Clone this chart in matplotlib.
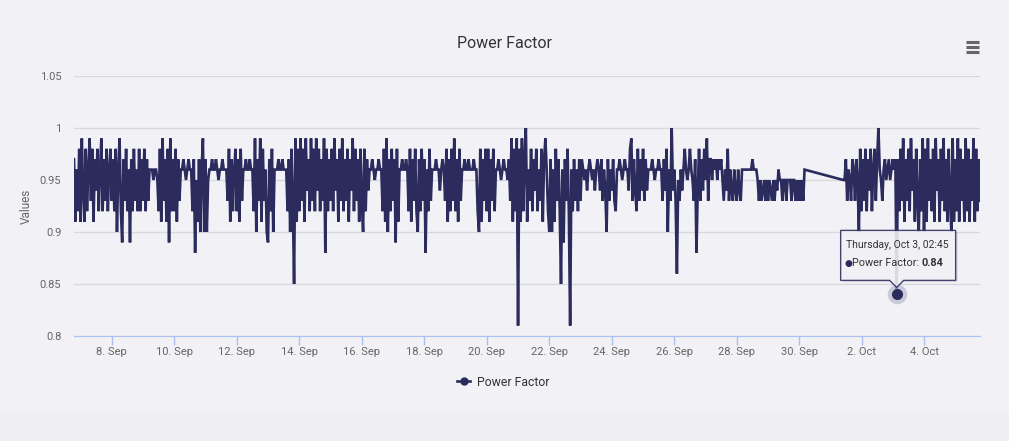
import matplotlib
matplotlib.use('Agg')
import matplotlib.pyplot as plt
import matplotlib.dates as mdates
from matplotlib import font_manager
from matplotlib.lines import Line2D
from matplotlib.patches import Rectangle, Polygon
from matplotlib.transforms import IdentityTransform
import numpy as np
import pandas as pd

# power factor readings, in hundredths, hourly
# first block: 6 Sep 19:00 -> 30 Sep 04:00
start_a = '2019-09-06 19:00'
pf_a = [
    97, 91, 96, 92, 98,  # 6 Sep 19-23
    91, 99, 94, 91, 98, 92, 96, 99, 93, 98, 91, 97, 94, 98, 92, 96, 99, 92, 97, 93, 98, 92, 96, 98,  # 7 Sep
    93, 97, 92, 98, 90, 96, 99, 92, 89, 97, 93, 98, 92, 96, 89, 97, 92, 98, 93, 96, 92, 98, 92, 97,  # 8
    93, 98, 92, 97, 93, 96, 96, 96, 95, 96, 96, 95, 92, 98, 91, 99, 93, 97, 91, 98, 89, 99, 92, 97,  # 9
    92, 98, 91, 97, 93, 96, 96, 97, 96, 95, 96, 97, 96, 96, 92, 97, 88, 95, 91, 97, 90, 96, 99, 90,  # 10
    97, 90, 95, 96, 96, 97, 96, 96, 97, 96, 95, 96, 96, 97, 96, 96, 96, 93, 98, 91, 97, 92, 96, 98,  # 11
    92, 97, 91, 98, 93, 96, 96, 97, 96, 96, 97, 96, 96, 92, 99, 90, 97, 93, 99, 91, 98, 93, 96, 90,  # 12
    89, 97, 92, 98, 90, 96, 96, 96, 97, 96, 96, 97, 96, 96, 96, 92, 97, 90, 98, 93, 85, 99, 91, 98,  # 13
    92, 99, 93, 98, 91, 99, 94, 97, 92, 99, 93, 98, 92, 99, 94, 98, 92, 97, 93, 99, 88, 98, 92, 97,  # 14
    93, 98, 92, 99, 94, 97, 91, 98, 93, 99, 92, 97, 93, 98, 91, 97, 94, 99, 92, 98, 93, 97, 91, 98,  # 15
    93, 90, 98, 92, 97, 94, 96, 96, 97, 96, 95, 96, 96, 97, 96, 96, 92, 98, 91, 99, 90, 97, 92, 98,  # 16
    93, 97, 89, 98, 91, 96, 96, 97, 96, 96, 97, 96, 92, 98, 91, 97, 93, 98, 92, 90, 97, 92, 98, 93,  # 17
    97, 88, 96, 92, 98, 93, 96, 96, 96, 97, 96, 96, 94, 96, 97, 96, 93, 98, 91, 97, 92, 98, 93, 99,  # 18
    92, 97, 91, 98, 93, 96, 96, 97, 96, 96, 97, 96, 96, 96, 97, 96, 96, 92, 90, 98, 91, 97, 93, 98,  # 19
    92, 98, 91, 97, 93, 98, 92, 96, 96, 97, 96, 95, 96, 97, 96, 96, 95, 97, 93, 99, 91, 98, 92, 99,  # 20
    81, 98, 91, 99, 92, 97, 100, 91, 96, 93, 98, 92, 97, 94, 98, 92, 96, 93, 98, 91, 97, 99, 96, 92,  # 21
    90, 97, 90, 96, 91, 98, 93, 97, 92, 85, 96, 89, 97, 93, 98, 92, 81, 96, 92, 97, 93, 96, 92, 97,  # 22
    93, 97, 96, 95, 96, 94, 96, 97, 96, 95, 96, 94, 96, 97, 96, 94, 97, 93, 96, 94, 90, 97, 93, 96,  # 23
    94, 97, 93, 92, 96, 96, 97, 96, 95, 96, 97, 96, 96, 94, 98, 99, 93, 97, 94, 92, 98, 93, 97, 94,  # 24
    98, 93, 97, 94, 96, 96, 96, 97, 96, 95, 96, 96, 97, 96, 96, 93, 97, 94, 98, 90, 96, 93, 100, 94,  # 25
    96, 93, 86, 95, 93, 96, 94, 96, 98, 96, 95, 96, 98, 96, 95, 93, 97, 88, 94, 98, 93, 97, 94, 98,  # 26
    95, 99, 93, 97, 97, 95, 97, 96, 97, 95, 97, 96, 97, 95, 93, 96, 94, 98, 93, 96, 94, 93, 96, 94,  # 27
    93, 96, 94, 93, 96, 96, 96, 96, 96, 96, 96, 96, 97, 96, 96, 96, 95, 93, 95, 93, 94, 95, 93, 95,  # 28
    93, 95, 94, 93, 95, 93, 95, 94, 96, 95, 95, 93, 95, 95, 93, 95, 95, 95, 93, 95, 95, 93, 95, 93,  # 29
    95, 93, 95, 93, 96,  # 30 Sep 00-04
]

# second block after the gap: 1 Oct 09:45 -> 5 Oct 18:45
start_b = '2019-10-01 09:45'
pf_b = [
    95, 95, 97, 93, 96, 95, 93, 97, 96, 93, 97, 95, 90, 98, 92,  # 1 Oct 09:45-23:45
    97, 93, 98, 92, 97, 94, 98, 92, 96, 98, 93, 97, 100, 96, 95, 93, 96, 97, 95, 96, 97, 95, 96, 97,  # 2
    96, 97, 84, 97, 92, 98, 93, 99, 91, 97, 93, 98, 92, 99, 94, 97, 91, 98, 93, 90, 97, 92, 99, 90,  # 3
    98, 91, 99, 93, 97, 92, 98, 91, 99, 94, 97, 91, 98, 93, 99, 92, 97, 91, 98, 93, 90, 99, 91, 97,  # 4
    92, 99, 91, 98, 93, 97, 91, 99, 92, 98, 91, 97, 93, 99, 91, 98, 92, 97, 93,  # 5 Oct 00:45-18:45
]

tip_time = '2019-10-03 02:45'
tip_value = 0.84
y_ticks = [0.8, 0.85, 0.9, 0.95, 1, 1.05]
y_tick_labels = ['0.8', '0.85', '0.9', '0.95', '1', '1.05']

navy = '#2b2b5e'
bg = '#f2f1f6'

names = {f.name for f in font_manager.fontManager.ttflist}
font = 'Liberation Sans Narrow' if 'Liberation Sans Narrow' in names else 'Roboto'
plt.rcParams['font.family'] = [font, 'DejaVu Sans']

times_a = pd.date_range(start_a, periods=len(pf_a), freq='h')
times_b = pd.date_range(start_b, periods=len(pf_b), freq='h')
times = times_a.append(times_b)
values = np.array(pf_a + pf_b) / 100.0

W, H = 1009, 441
fig = plt.figure(figsize=(W / 100, H / 100), dpi=100, facecolor=bg)
fig.add_artist(Rectangle((0, 0), W, 30, transform=IdentityTransform(),
                         facecolor='#efeef3', edgecolor='none', zorder=0))

ax = fig.add_axes([74 / W, 1 - 336 / H, 906 / W, 260 / H])
ax.set_facecolor(bg)
ax.plot(times, values, color=navy, lw=1.9, solid_joinstyle='miter', zorder=3)

ax.set_xlim(times[0], times[-1])
ax.set_ylim(0.8, 1.05)
ax.set_yticks(y_ticks, y_tick_labels)
ax.grid(axis='y', color='#d9d8de', lw=1)
ax.set_axisbelow(True)

xt = pd.date_range('2019-09-08', '2019-10-04', freq='2D')
ax.set_xticks(xt, ['%d. %s' % (d.day, d.strftime('%b')) for d in xt])

for s in ['top', 'right', 'left']:
    ax.spines[s].set_visible(False)
ax.spines['bottom'].set_color('#a9c2f2')
ax.tick_params(axis='x', colors='#a9c2f2', length=6.5, width=1, labelcolor='#666666',
               labelsize=8, pad=1.5)
ax.tick_params(axis='y', length=0, labelcolor='#666666', labelsize=8, pad=9)
ax.set_ylabel('Values', color='#666666', fontsize=8.5, labelpad=5)

fig.text(0.5, 1 - 44 / H, 'Power Factor', ha='center', va='center', fontsize=11.5, color='#333333')

# menu button
for yy in [41.5, 46.5, 51.5]:
    fig.add_artist(Line2D([966, 979], [H - yy, H - yy], transform=IdentityTransform(),
                          color='#666666', lw=2.2, solid_capstyle='butt'))

# legend
handle = Line2D([], [], color=navy, lw=1.9, marker='o', markersize=5)
fig.legend([handle], ['Power Factor'], loc='center', bbox_to_anchor=(503 / W, 1 - 382 / H),
           frameon=False, handlelength=1.1, handletextpad=0.5, fontsize=8.8,
           labelcolor='#333333')

# hovered point with tooltip
tip_t = pd.Timestamp(tip_time)
px, py = ax.transData.transform((mdates.date2num(tip_t), tip_value))
ax.plot([tip_t], [tip_value], 'o', ms=14, color='#b8b8cc', alpha=0.7,
        mec='none', zorder=5, clip_on=False)
ax.plot([tip_t], [tip_value], 'o', ms=8, color=navy, mec='none', zorder=6, clip_on=False)

idt = IdentityTransform()
box_l, box_r = px - 56, px + 59
box_b, box_t = py + 14, py + 64
fig.add_artist(Rectangle((box_l + 2, box_b - 2), box_r - box_l, box_t - box_b, transform=idt,
                         facecolor='#000000', alpha=0.08, edgecolor='none', zorder=7))
fig.add_artist(Polygon([(box_l, box_b), (px - 7, box_b), (px, py + 7), (px + 7, box_b),
                        (box_r, box_b), (box_r, box_t), (box_l, box_t)], closed=True,
                       transform=idt, facecolor='#f4f3f7', alpha=0.88, edgecolor=navy,
                       lw=1, zorder=8))
fig.text(box_l + 5, box_t - 15, 'Thursday, Oct 3, 02:45', transform=idt, fontsize=7.5,
         color='#333333', va='center', ha='left', zorder=9)
fig.text(box_l + 4, box_t - 33, '\u25cf', transform=idt, fontsize=6.5, color=navy,
         va='center', ha='left', zorder=9)
lab = fig.text(box_l + 11, box_t - 33, 'Power Factor:', transform=idt, fontsize=7.8,
               color='#333333', va='center', ha='left', zorder=9)
lab_end = lab.get_window_extent(fig.canvas.get_renderer()).x1
fig.text(lab_end + 3, box_t - 33, '%.2f' % tip_value, transform=idt, fontsize=7.8,
         color='#333333', fontweight='bold', va='center', ha='left', zorder=9)

fig.savefig('out.png', dpi=100, facecolor=bg)
